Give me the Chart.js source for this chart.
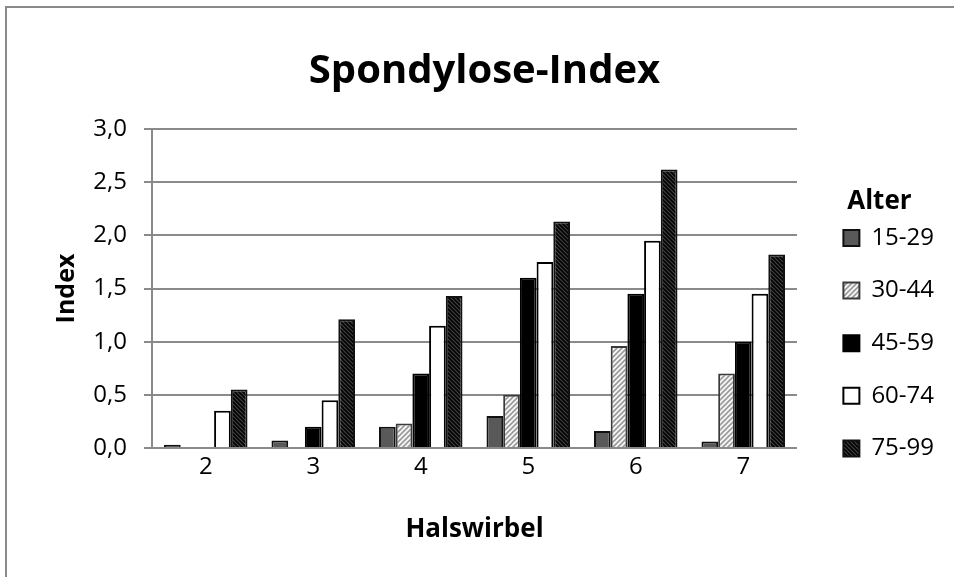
<!DOCTYPE html>
<html>
<head>
<meta charset="utf-8">
<script src="https://cdn.jsdelivr.net/npm/chart.js@4.4.1/dist/chart.umd.min.js"></script>
<style>
  html, body { margin: 0; padding: 0; background: #fff; }
  #frame {
    position: absolute; left: 5px; top: 6px;
    width: 949px; height: 571px;
    border-left: 2px solid #8a8a8a; border-top: 2px solid #8a8a8a;
  }
  canvas { display: block; }
</style>
</head>
<body>
<div id="frame"><canvas id="chart" width="947" height="569"></canvas></div>
<script>
// Halswirbel (cervical vertebrae) on the x axis
const vertebrae = ['2', '3', '4', '5', '6', '7'];

// Age groups (legend "Alter")
const ageGroups = ['15-29', '30-44', '45-59', '60-74', '75-99'];

// Spondylose-Index per vertebra for each age group
const age15to29 = [0.03, 0.07, 0.20, 0.30, 0.16, 0.06];
const age30to44 = [0, 0, 0.23, 0.50, 0.96, 0.70];
const age45to59 = [0, 0.20, 0.70, 1.60, 1.45, 1.00];
const age60to74 = [0.35, 0.45, 1.15, 1.75, 1.95, 1.45];
const age75to99 = [0.55, 1.21, 1.43, 2.13, 2.62, 1.82];

// Y axis tick values
const yTickValues = [0, 0.5, 1.0, 1.5, 2.0, 2.5, 3.0];

const seriesValues = [age15to29, age30to44, age45to59, age60to74, age75to99];

// Diagonal hatch pattern: dir '/' rises to the right, '\' falls to the right
function hatch(base, stroke, size, width, dir) {
  const c = document.createElement('canvas');
  c.width = size; c.height = size;
  const g = c.getContext('2d');
  g.fillStyle = base;
  g.fillRect(0, 0, size, size);
  g.strokeStyle = stroke;
  g.lineWidth = width;
  g.lineCap = 'square';
  for (const o of [-size, 0, size]) {
    g.beginPath();
    if (dir === '/') { g.moveTo(o, size); g.lineTo(o + size, 0); }
    else { g.moveTo(o, 0); g.lineTo(o + size, size); }
    g.stroke();
  }
  return g.createPattern(c, 'repeat');
}

const fills = [
  '#595959',
  hatch('#f6f6f6', '#999999', 5, 1.6, '/'),
  '#000000',
  '#ffffff',
  hatch('#444444', '#000000', 4, 1.6, '\\')
];
const borders = ['#111111', '#3a3a3a', '#000000', '#000000', '#111111'];

const axisGrey = '#8a8a8a';
const decimalComma = v => Number(v).toFixed(1).replace('.', ',');

function draw() {
  Chart.defaults.font.family = "'Open Sans', sans-serif";
  new Chart(document.getElementById('chart'), {
    type: 'bar',
    data: {
      labels: vertebrae,
      datasets: ageGroups.map((g, i) => ({
        label: g,
        data: seriesValues[i],
        backgroundColor: fills[i],
        borderColor: borders[i],
        borderWidth: 2,
        borderSkipped: 'start',
        barPercentage: 1,
        categoryPercentage: 0.777
      }))
    },
    options: {
      responsive: false,
      animation: false,
      layout: { padding: { left: 18, right: 10, top: 0, bottom: 0 } },
      plugins: {
        title: {
          display: true,
          text: 'Spondylose-Index',
          color: '#000',
          font: { size: 40, weight: 'bold' },
          padding: { top: 40, bottom: 33 }
        },
        legend: {
          position: 'right',
          align: 'start',
          title: {
            display: true,
            text: 'Alter',
            color: '#000',
            font: { size: 26, weight: 'bold' },
            padding: { top: 181, bottom: -22.8 }
          },
          labels: {
            boxWidth: 16,
            boxHeight: 16,
            padding: 28.6,
            color: '#000',
            font: { size: 24 }
          }
        },
        tooltip: { enabled: false }
      },
      scales: {
        x: {
          grid: { display: false, drawTicks: false },
          border: { display: true, color: axisGrey, width: 2 },
          ticks: { color: '#000', font: { size: 24 }, padding: 4.6 },
          title: {
            display: true,
            text: 'Halswirbel',
            color: '#000',
            font: { size: 26, weight: 'bold' },
            padding: { top: 0, bottom: 31.4 }
          },
          afterFit(s) { s.height = 129; }
        },
        y: {
          min: 0,
          max: 3,
          grid: { color: axisGrey, lineWidth: 2, drawTicks: true, tickLength: 8 },
          border: { display: true, color: axisGrey, width: 2 },
          ticks: { color: '#000', font: { size: 24 }, padding: 17, callback: decimalComma },
          afterBuildTicks(s) { s.ticks = yTickValues.map(v => ({ value: v })); },
          title: {
            display: true,
            text: 'Index',
            color: '#000',
            font: { size: 25, weight: 'bold' },
            padding: { top: 27, bottom: 0 }
          },
          afterFit(s) { s.width = 127; }
        },
        // empty spacer between plot area and legend
        gap: {
          type: 'linear',
          position: 'right',
          display: true,
          grid: { display: false, drawTicks: false },
          border: { display: false },
          ticks: { display: false },
          afterFit(s) { s.width = 17.8; }
        }
      }
    }
  });
}

Promise.all([
  document.fonts.load("bold 40px 'Open Sans'"),
  document.fonts.load("24px 'Open Sans'")
]).then(draw, draw);
</script>
</body>
</html>
